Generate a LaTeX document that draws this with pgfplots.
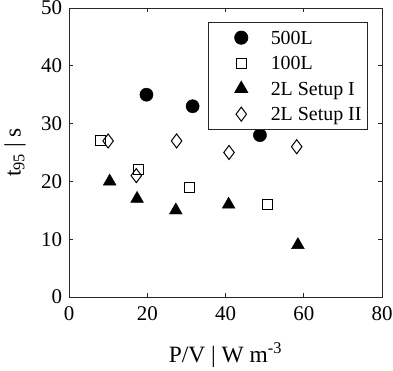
\documentclass[border=0pt]{standalone}
\usepackage{fontspec}
\setmainfont{Liberation Serif}
\usepackage{pgfplots}
\pgfplotsset{compat=1.18}
\pgfplotsset{myleg/.style={legend image code/.code={\path (0bp,-5.8bp) (55bp,18.8bp); \draw[##1] plot coordinates {(26bp,6.6bp)};}}}
\begin{document}
\begin{tikzpicture}
\begin{axis}[
  at={(69bp,74bp)}, anchor=south west,
  scale only axis, width=313bp, height=289bp,
  xmin=0, xmax=80, ymin=0, ymax=50,
  xtick={0,20,40,60,80}, ytick={0,10,20,30,40,50},
  tick align=inside, major tick length=4bp,
  axis line style={black!85, line width=0.8bp},
  every tick/.style={black!85, line width=0.8bp},
  /pgf/number format/assume math mode=true,
  tick label style={font=\fontsize{21}{25}\selectfont},
  yticklabel style={xshift=-3.5bp},
  xticklabel style={yshift=-6.5bp},
  xlabel={P/V | W m\textsuperscript{-3}},
  ylabel={t\textsubscript{95} | s},
  label style={font=\fontsize{23.5}{28}\selectfont},
  xlabel style={at={(axis description cs:0.5,-0.225)}, anchor=base},
  ylabel style={at={(axis description cs:-0.1725,0.5)}, anchor=center},
  legend style={draw=black!85, line width=0.8bp, fill=white, at={(0.955,0.952)}, anchor=north east,
    inner xsep=6bp, inner ysep=2.8bp, row sep=0pt,
    font=\fontsize{20}{24}\selectfont,
    nodes={inner sep=0pt, anchor=base west}, cells={anchor=base west}},
]
\addplot[only marks, mark=*, mark size=6.6bp, black, fill=black, myleg]
  coordinates {(19.8,35) (31.6,33) (48.8,28)};
\addlegendentry{500L}
\addplot[only marks, mark=square, mark size=5bp, black, line width=1bp, myleg]
  coordinates {(8.0,27) (17.7,22) (30.7,19) (50.8,16)};
\addlegendentry{100L}
\addplot[only marks, mark=triangle*, mark size=7.4bp, black, fill=black, myleg]
  coordinates {(10.4,20) (17.4,17) (27.3,15) (40.8,16) (58.5,9)};
\addlegendentry{2L Setup I}
\addplot[only marks, mark=diamond, mark size=7bp, black, line width=1bp, myleg]
  coordinates {(10.0,27) (17.2,21) (27.5,27) (40.9,25) (58.2,26)};
\addlegendentry{2L Setup II}
\end{axis}
\pgfresetboundingbox
\path[use as bounding box] (0,0) rectangle (393bp,371bp);
\end{tikzpicture}
\end{document}
